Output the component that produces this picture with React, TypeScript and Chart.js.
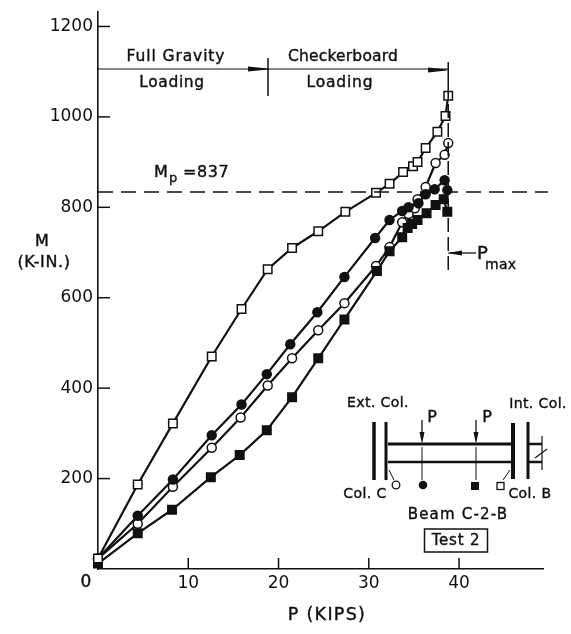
import React, { useEffect, useRef } from "react";
import { Chart, registerables } from "chart.js";

Chart.register(...registerables);

const openSquareP = [0, 4.4, 8.3, 12.6, 15.9, 18.8, 21.5, 24.4, 27.4, 30.8, 32.3, 33.8, 34.9, 35.4, 36.3, 37.6, 38.5, 38.8];
const openSquareM = [23, 187, 322, 470, 575, 663, 710, 747, 790, 832, 852, 878, 891, 900, 931, 967, 1002, 1047];
const filledCircleP = [0, 4.4, 8.3, 12.6, 15.9, 18.7, 21.3, 24.3, 27.3, 30.7, 32.3, 33.7, 34.4, 35.5, 36.3, 37.3, 38.4, 38.7];
const filledCircleM = [23, 118, 198, 296, 364, 431, 497, 568, 646, 732, 772, 792, 800, 809, 829, 840, 860, 838];
const openCircleP = [0, 4.4, 8.3, 12.6, 15.8, 18.8, 21.5, 24.4, 27.3, 30.8, 32.3, 33.7, 34.4, 35.1, 35.4, 36.3, 37.4, 38.4, 38.8];
const openCircleM = [23, 100, 182, 268, 335, 406, 466, 528, 588, 670, 712, 767, 785, 798, 818, 845, 898, 916, 942];
const filledSquareP = [0, 4.4, 8.2, 12.5, 15.7, 18.7, 21.5, 24.4, 27.3, 30.9, 32.3, 33.7, 34.3, 34.8, 35.4, 36.4, 37.4, 38.3, 38.7];
const filledSquareM = [12, 79, 131, 203, 252, 307, 380, 466, 552, 659, 703, 734, 754, 763, 772, 787, 805, 818, 790];

const xTickLabels = ["10", "20", "30", "40"];
const yTickLabels = ["200", "400", "600", "800", "1000", "1200"];
const PMAX = 38.8;
const MP_LINE = 834;
const INK = "#111111";
const FONT = '"DejaVu Sans"';

const pair = (xs: number[], ys: number[]) => xs.map((x, i) => ({ x, y: ys[i] }));

const series = (data: any[], style: string, fill: string, radius: number) => ({
  data,
  showLine: true,
  tension: 0,
  clip: false,
  borderColor: INK,
  borderWidth: 2.2,
  pointStyle: style,
  pointRadius: radius,
  pointBackgroundColor: fill,
  pointBorderColor: INK,
  pointBorderWidth: 1.5,
});

const decor = {
  id: "decor",
  afterDraw(chart: any) {
    const c: CanvasRenderingContext2D = chart.ctx;
    const sx = chart.scales.x;
    const sy = chart.scales.y;
    const X = (v: number) => sx.getPixelForValue(v);
    const Y = (v: number) => sy.getPixelForValue(v);
    const line = (a: number, b: number, d: number, e: number, w = 1.5, dash: number[] = []) => {
      c.save();
      c.strokeStyle = INK;
      c.lineWidth = w;
      c.setLineDash(dash);
      c.beginPath();
      c.moveTo(a, b);
      c.lineTo(d, e);
      c.stroke();
      c.restore();
    };
    const text = (s: string, x: number, y: number, size = 16, spacing = 0.5, align: CanvasTextAlign = "center") => {
      c.save();
      c.fillStyle = INK;
      c.strokeStyle = INK;
      c.lineWidth = 0.4;
      c.font = `${size}px ${FONT}`;
      (c as any).letterSpacing = `${spacing}px`;
      c.textAlign = align;
      c.textBaseline = "middle";
      c.fillText(s, x, y);
      c.strokeText(s, x, y);
      c.restore();
    };
    const blob = (x0: number, x1: number, y: number) => {
      c.save();
      c.fillStyle = INK;
      c.beginPath();
      c.moveTo(x0, y - 2.5);
      c.lineTo(x1, y - 0.5);
      c.lineTo(x1, y + 0.5);
      c.lineTo(x0, y + 2.5);
      c.closePath();
      c.fill();
      c.restore();
    };

    // inward tick marks
    sy.ticks.forEach((t: any) => {
      if (t.value > 0) line(sx.left, Y(t.value), sx.left + 12, Y(t.value), 1.5);
    });
    sx.ticks.forEach((t: any) => {
      if (t.value > 0 && t.value <= 40) line(X(t.value), sy.bottom, X(t.value), sy.bottom - 11, 1.5);
    });

    // zero label and axis titles
    text("0", 86, 583, 17, 0);
    text("P (KIPS)", 327, 615, 17.5, 1.3);
    text("M", 42, 242, 16, 0);
    text("(K-IN.)", 44, 263, 16, 0.6);

    // Mp reference line
    line(sx.left, Y(MP_LINE), 548, Y(MP_LINE), 1.5, [15, 8]);
    text("M", 154, 173, 16, 0, "left");
    text("p", 169, 179, 13, 0, "left");
    text("=837", 183, 173, 16, 0.6, "left");

    // Pmax vertical line
    line(X(PMAX), 62, X(PMAX), 85, 1.5);
    line(X(PMAX), 85, X(PMAX), 273, 1.5, [14, 5]);
    line(X(PMAX), 253, 476, 253, 1.3);
    blob(462, 450, 253);
    text("P", 477, 254, 18, 0, "left");
    text("max", 485, 265, 14, 0.3, "left");

    // loading regimes
    line(sx.left, 69, X(PMAX), 69, 1.2);
    line(268, 58, 268, 96, 1.5);
    blob(248, 268, 69);
    blob(428, 447, 70);
    text("Full Gravity", 176, 57, 15.5, 0.9);
    text("Loading", 172, 83, 15.5, 0.6);
    text("Checkerboard", 343, 57, 15.5, 0.2);
    text("Loading", 340, 83, 15.5, 0.8);

    // beam schematic
    line(374, 422, 374, 480, 3.5);
    line(386, 422, 386, 480, 3);
    line(388, 444, 512, 444, 3);
    line(388, 462, 512, 462, 2.5);
    line(513, 423, 513, 479, 4);
    line(528, 422, 528, 479, 3);
    line(528, 444, 542, 444, 2.5);
    line(528, 462, 542, 462, 2.5);
    line(542, 436, 542, 470, 1.2);
    line(535, 458, 547, 449, 1.2);
    [422, 476].forEach((x) => {
      line(x, 420, x, 440, 1.3);
      c.save();
      c.fillStyle = INK;
      c.beginPath();
      c.moveTo(x - 2.5, 432);
      c.lineTo(x + 2.5, 432);
      c.lineTo(x, 444);
      c.closePath();
      c.fill();
      c.restore();
      line(x, 447, x, 480, 1);
    });
    text("P", 432, 418, 16, 0);
    text("P", 487, 418, 16, 0);
    line(389, 470, 394, 480, 1);
    line(510, 470, 503, 480, 1);
    c.save();
    c.strokeStyle = INK;
    c.lineWidth = 1.3;
    c.fillStyle = "#fff";
    c.beginPath();
    c.arc(396, 485, 3.8, 0, Math.PI * 2);
    c.fill();
    c.stroke();
    c.fillRect(497, 482.5, 7, 7);
    c.strokeRect(497, 482.5, 7, 7);
    c.fillStyle = INK;
    c.beginPath();
    c.arc(423, 485, 4.3, 0, Math.PI * 2);
    c.fill();
    c.fillRect(471, 482, 8, 8);
    c.lineWidth = 1.5;
    c.strokeRect(424.5, 529, 63, 23);
    c.restore();
    text("Ext. Col.", 378, 403, 14, 0.4);
    text("Int. Col.", 538, 404, 14, 0.4);
    text("Col. C", 365, 494, 14, 0.4);
    text("Col. B", 530, 494, 14, 0.4);
    text("Beam C-2-B", 458, 515, 15, 1.2);
    text("Test 2", 456, 541, 15, 0.8);
  },
};

export default function App() {
  const ref = useRef<HTMLCanvasElement | null>(null);
  useEffect(() => {
    document.body.style.margin = "0";
    const chart = new Chart(ref.current as HTMLCanvasElement, {
      type: "scatter",
      data: {
        datasets: [
          series(pair(openSquareP, openSquareM), "rect", "#fff", 6),
          series(pair(filledSquareP, filledSquareM), "rect", INK, 6),
          series(pair(filledCircleP, filledCircleM), "circle", INK, 4.5),
          series(pair(openCircleP, openCircleM), "circle", "#fff", 4.5),
        ] as any,
      },
      options: {
        animation: false,
        responsive: false,
        layout: { padding: { top: 12, right: 28, left: 0, bottom: 0 } },
        plugins: { legend: { display: false }, tooltip: { enabled: false } },
        scales: {
          x: {
            type: "linear",
            min: 0,
            max: 49.3,
            afterFit: (s: any) => { s.height = 65; },
            grid: { display: false },
            border: { display: true, color: INK, width: 1.6 },
            afterBuildTicks: (s: any) => { s.ticks = [0, ...xTickLabels.map(Number)].map((value) => ({ value })); },
            ticks: {
              color: INK,
              maxRotation: 0,
              padding: -4,
              autoSkip: false,
              font: { family: FONT, size: 17 },
              callback: (v: any) => (xTickLabels.includes(String(v)) ? String(v) : ""),
            },
          },
          y: {
            type: "linear",
            min: 0,
            max: 1232,
            afterFit: (s: any) => { s.width = 98; },
            grid: { display: false },
            border: { display: true, color: INK, width: 1.6 },
            afterBuildTicks: (s: any) => { s.ticks = [0, ...yTickLabels.map(Number)].map((value) => ({ value })); },
            ticks: {
              color: INK,
              padding: -3,
              autoSkip: false,
              font: { family: FONT, size: 17 },
              callback: (v: any) => (yTickLabels.includes(String(v)) ? String(v) : ""),
            },
          },
        },
      } as any,
      plugins: [decor],
    });
    return () => chart.destroy();
  }, []);
  return <canvas ref={ref} width={571} height={634} style={{ display: "block" }} />;
}
